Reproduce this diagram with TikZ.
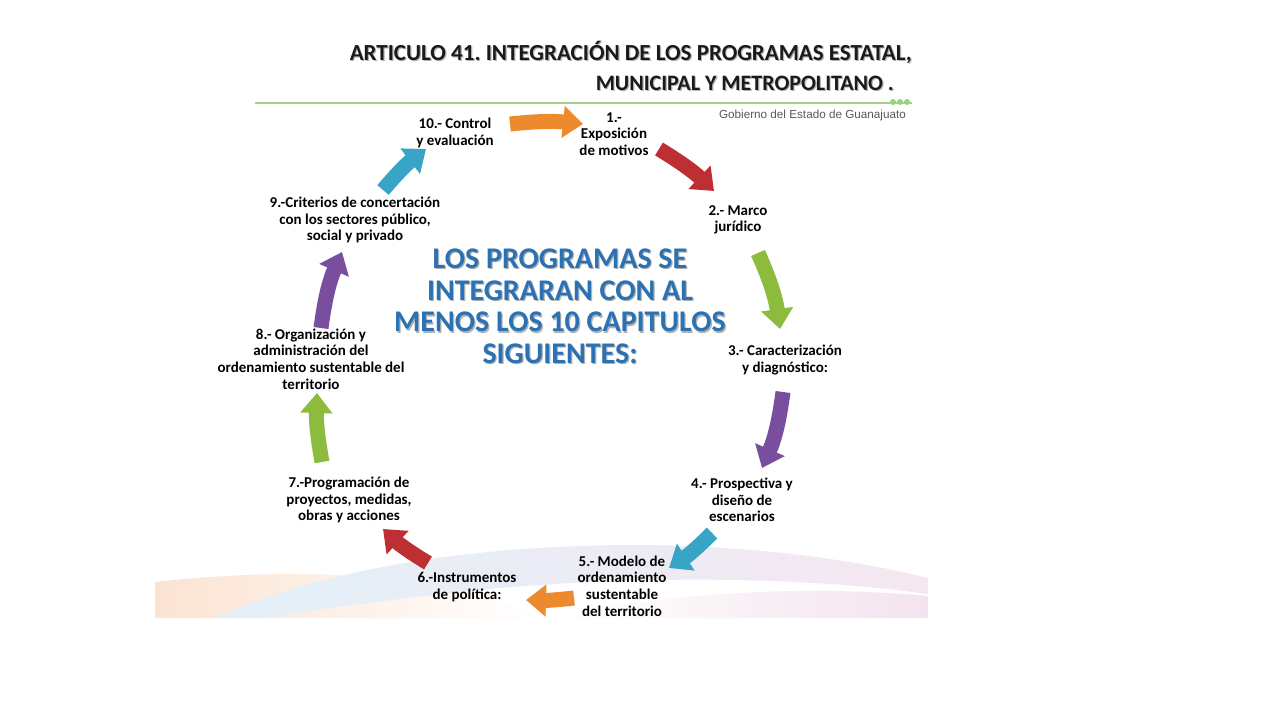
\documentclass[tikz,border=0pt]{standalone}
\usepackage{fontspec}
\setmainfont{Carlito}
\newfontfamily\govfont{Liberation Sans}
\usetikzlibrary{arrows.meta}
\frenchspacing

\definecolor{titleink}{HTML}{1A1A1A}
\definecolor{progblue}{HTML}{2B72B4}
\definecolor{rulegreen}{HTML}{A9CF8C}
\definecolor{arrorange}{HTML}{EE8A2E}
\definecolor{arrred}{HTML}{BD2F33}
\definecolor{arrgreen}{HTML}{8CBB3E}
\definecolor{arrpurple}{HTML}{7A4E9E}
\definecolor{arrteal}{HTML}{38A5C6}
\definecolor{swblue}{HTML}{CFE6F3}
\definecolor{swpeach}{HTML}{FBE3D2}
\definecolor{swpink}{HTML}{F1DDEB}

% text with a soft drop shadow
\newcommand{\shtxt}[1]{\leavevmode\rlap{\kern1.2pt\raisebox{-1.2pt}{\color{black!30}#1}}#1}

\tikzset{
  item/.style={align=center, inner sep=1pt, text=black,
    font=\fontsize{15}{16.6}\selectfont\bfseries},
  bigarrow/.style={line width=15pt, draw=#1,
    -{Triangle[width=31pt,length=20pt]}},
  titletext/.style={inner sep=0pt, text=titleink,
    font=\fontsize{#1}{30}\selectfont\bfseries},
}

\begin{document}
\begin{tikzpicture}[x=1pt,y=-1pt]
  \useasboundingbox[fill=white] (0,0) rectangle (1280,720);

  % backdrop swoosh
  \shade[left color=swpeach, right color=white] (155,618) -- (155,582)
    .. controls (300,566) and (440,572) .. (540,618) -- cycle;
  \shade[left color=swblue!60, middle color=swblue, right color=swpink!70]
    (215,618) .. controls (330,566) and (480,545) .. (640,545)
    .. controls (780,546) and (880,566) .. (928,578) -- (928,594)
    .. controls (800,576) and (640,576) .. (500,588)
    .. controls (400,598) and (310,610) .. (265,618) -- cycle;
  \shade[left color=white, right color=swpink, opacity=0.8] (560,618)
    .. controls (650,594) and (800,584) .. (928,596) -- (928,618) -- cycle;

  % heading
  \node[titletext=23, anchor=base east] (title1) at (912,60)
    {\shtxt{ARTICULO 41. INTEGRACIÓN DE LOS PROGRAMAS ESTATAL,}};
  \node[titletext=22, anchor=base east] (title2) at (894,90)
    {\shtxt{MUNICIPAL Y METROPOLITANO .}};
  \coordinate (ruleA) at (255,103);
  \coordinate (ruleB) at (912,103);
  \draw[rulegreen, line width=1.5pt] (ruleA) -- (ruleB);
  \foreach \dx in {0,7,14}
    \fill[rulegreen!90!green] (893+\dx,102) circle (3pt);
  \node[anchor=base east, inner sep=0pt, text=black!65,
    font=\govfont\fontsize{11.7}{13}\selectfont] (gob) at (906,118)
    {Gobierno del Estado de Guanajuato};

  % centre
  \node[align=center, inner sep=0pt, text=progblue,
    font=\fontsize{30}{31.6}\selectfont\bfseries] (progs) at (560,307)
    {\shtxt{LOS PROGRAMAS SE}\\ \shtxt{INTEGRARAN CON AL}\\
     \shtxt{MENOS LOS 10 CAPITULOS}\\ \shtxt{SIGUIENTES:}};

  % chapters
  \node[item] (c1) at (614,134) {1.-\\ Exposición\\ de motivos};
  \node[item] (c2) at (738,220) {2.- Marco\\ jurídico};
  \node[item] (c3) at (785,360) {3.- Caracterización\\ y diagnóstico:};
  \node[item] (c4) at (742,500) {4.- Prospectiva y\\ diseño de\\ escenarios};
  \node[item] (c5) at (622,586) {5.- Modelo de\\ ordenamiento\\ sustentable\\ del territorio};
  \node[item] (c6) at (467,587) {6.-Instrumentos\\ de política:};
  \node[item] (c7) at (349,500) {7.-Programación de\\ proyectos, medidas,\\ obras y acciones};
  \node[item] (c8) at (311,359) {8.- Organización y\\ administración del\\ ordenamiento sustentable del\\ territorio};
  \node[item] (c9) at (355,220) {9.-Criterios de concertación\\ con los sectores público,\\ social y privado};
  \node[item] (c10) at (455,133) {10.- Control\\ y evaluación};

  % arrow ends
  \coordinate (a1s) at (510,124);  \coordinate (a1e) at (583,124);
  \coordinate (a2s) at (659,149);  \coordinate (a2e) at (714,191);
  \coordinate (a3s) at (758,253);  \coordinate (a3e) at (780,329);
  \coordinate (a4s) at (783,392);  \coordinate (a4e) at (762,468);
  \coordinate (a5s) at (712,533);  \coordinate (a5e) at (669,568);
  \coordinate (a6s) at (574,598);  \coordinate (a6e) at (526,600);
  \coordinate (a7s) at (428,563);  \coordinate (a7e) at (383,529);
  \coordinate (a8s) at (322,462);  \coordinate (a8e) at (317,393);
  \coordinate (a9s) at (321,328);  \coordinate (a9e) at (342,252);
  \coordinate (a10s) at (383,190); \coordinate (a10e) at (426,149);

  \draw[bigarrow=arrorange] (a1s) to[bend left=6] (a1e);
  \draw[bigarrow=arrred] (a2s) to[bend left=6] (a2e);
  \draw[bigarrow=arrgreen] (a3s) to[bend left=8] (a3e);
  \draw[bigarrow=arrpurple] (a4s) to[bend left=8] (a4e);
  \draw[bigarrow=arrteal] (a5s) to[bend left=6] (a5e);
  \draw[bigarrow=arrorange] (a6s) to[bend left=4] (a6e);
  \draw[bigarrow=arrred] (a7s) to[bend left=6] (a7e);
  \draw[bigarrow=arrgreen] (a8s) to[bend left=6] (a8e);
  \draw[bigarrow=arrpurple] (a9s) to[bend left=8] (a9e);
  \draw[bigarrow=arrteal] (a10s) to[bend left=6] (a10e);
\end{tikzpicture}
\end{document}
